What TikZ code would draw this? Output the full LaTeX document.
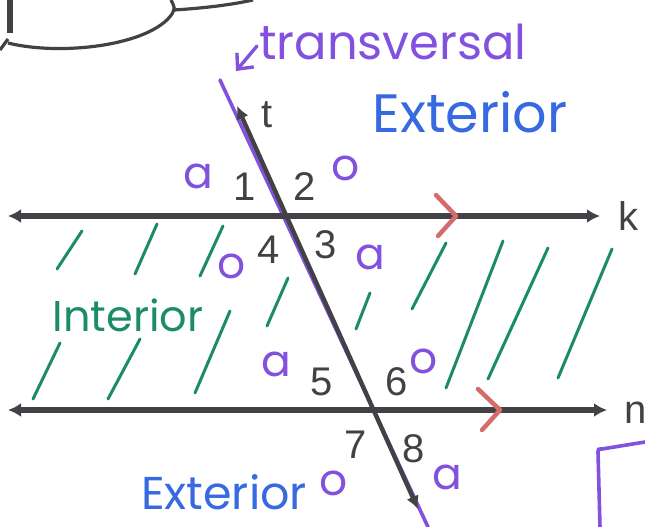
\documentclass[tikz,border=0pt]{standalone}
\usepackage{fontspec}
\setmainfont{Liberation Sans}
\newfontfamily\handfont{Poppins}
\usetikzlibrary{arrows.meta}
\definecolor{penpurple}{RGB}{130,82,222}
\definecolor{penblue}{RGB}{55,105,225}
\definecolor{pengreen}{RGB}{28,140,102}
\definecolor{penred}{RGB}{212,108,108}
\definecolor{inkgray}{RGB}{66,66,70}

\begin{document}
\begin{tikzpicture}[
  x=1pt, y=-1pt,
  every node/.style = {inner sep=0pt},
  printed/.style = {font=\fontsize{40}{40}\selectfont, text=inkgray},
  hand/.style = {font=\handfont\fontsize{44}{44}\selectfont, text=penpurple},
  region/.style = {font=\handfont\fontsize{#1}{#1}\selectfont},
  hatch/.style = {pengreen, line width=3pt, line cap=round},
  parline/.style = {inkgray, line width=5.5pt, {Latex[length=13pt,width=14pt]}-{Latex[length=13pt,width=14pt]}},
  chevron/.style = {penred, line width=4.5pt, line cap=round, line join=round},
  >=Latex
]
  \useasboundingbox (0,0) rectangle (645,527);

  % cut-off bubble at the top left
  \draw[inkgray, line width=5.5pt] (10,0) -- (10,33);
  \draw[inkgray, line width=3.2pt] (0,50) -- (8,39);
  \draw[inkgray, line width=3.2pt] (8,43) .. controls (60,56) and (150,46) .. (172,14)
    .. controls (175,8) .. (171,0);
  \draw[inkgray, line width=3.2pt] (174,10) .. controls (205,8) and (230,5) .. (253,0);

  % points of the lines
  \coordinate (k west) at (8,216);
  \coordinate (k east) at (600,216);
  \coordinate (n west) at (8,410);
  \coordinate (n east) at (607,410);
  \coordinate (t top) at (237,106);
  \coordinate (t bot) at (418,509);
  \coordinate (pen top) at (220,80);
  \coordinate (pen bot) at (428,527);

  % green hatching of the interior
  \foreach \xa/\ya/\xb/\yb in {82/231/57/269, 157/224/135/274, 223/226/200/276,
      288/278/267/326, 60/343/33/399, 140/339/108/399, 230/311/195/393,
      370/293/356/329, 446/243/412/309, 503/241/446/388, 548/248/488/379,
      612/249/558/378}
    \draw[hatch] (\xa,\ya) -- (\xb,\yb);

  \draw[penpurple, line width=3.6pt, line cap=round] (pen top) -- (pen bot);
  \draw[parline] (k west) -- (k east);
  \draw[parline] (n west) -- (n east);
  \draw[inkgray, line width=4.4pt, {Latex[length=13pt,width=13pt]}-{Latex[length=13pt,width=13pt]}] (t top) -- (t bot);

  % parallel marks
  \draw[chevron] (436,195) -- (456,216) -- (438,236);
  \draw[chevron] (478,389) -- (500,410) -- (482,430);

  % purple corner at the bottom right
  \draw[penpurple, line width=3.6pt] (600,527) -- (598,452) .. controls (598,449) .. (602,449) -- (645,442);

  \node[printed] (t) at (267,115) {t};
  \node[printed, anchor=west] (k) at (618,216) {k};
  \node[printed, anchor=west] (n) at (624,413) {n};

  \node[printed] (a1) at (245,187) {1};
  \node[printed] (a2) at (305,187) {2};
  \node[printed] (a3) at (326,245) {3};
  \node[printed] (a4) at (269,250) {4};
  \node[printed] (a5) at (322,382) {5};
  \node[printed] (a6) at (397,382) {6};
  \node[printed] (a7) at (356,445) {7};
  \node[printed] (a8) at (414,449) {8};

  \node[hand] (m1) at (198,176) {a};
  \node[hand] (m2) at (346,168) {o};
  \node[hand] (m4) at (232,266) {o};
  \node[hand] (m3) at (370,257) {a};
  \node[hand] (m5) at (276,364) {a};
  \node[hand] (m6) at (424,361) {o};
  \node[hand] (m7) at (334,483) {o};
  \node[hand] (m8) at (447,477) {a};

  \node[region=48, text=penpurple] (trans) at (393,42) {transversal};
  \coordinate (ptr tail) at (257,46);
  \coordinate (ptr tip) at (236,71);
  \draw[penpurple, line width=3.4pt, line cap=round, -{Straight Barb[length=12pt,width=22pt]}] (ptr tail) -- (ptr tip);

  \node[region=54, text=penblue] (ext top) at (470,112) {Exterior};
  \node[region=46, text=penblue] (ext bot) at (224,492) {Exterior};
  \node[region=43, text=pengreen] (int) at (128,315) {Interior};
\end{tikzpicture}
\end{document}
